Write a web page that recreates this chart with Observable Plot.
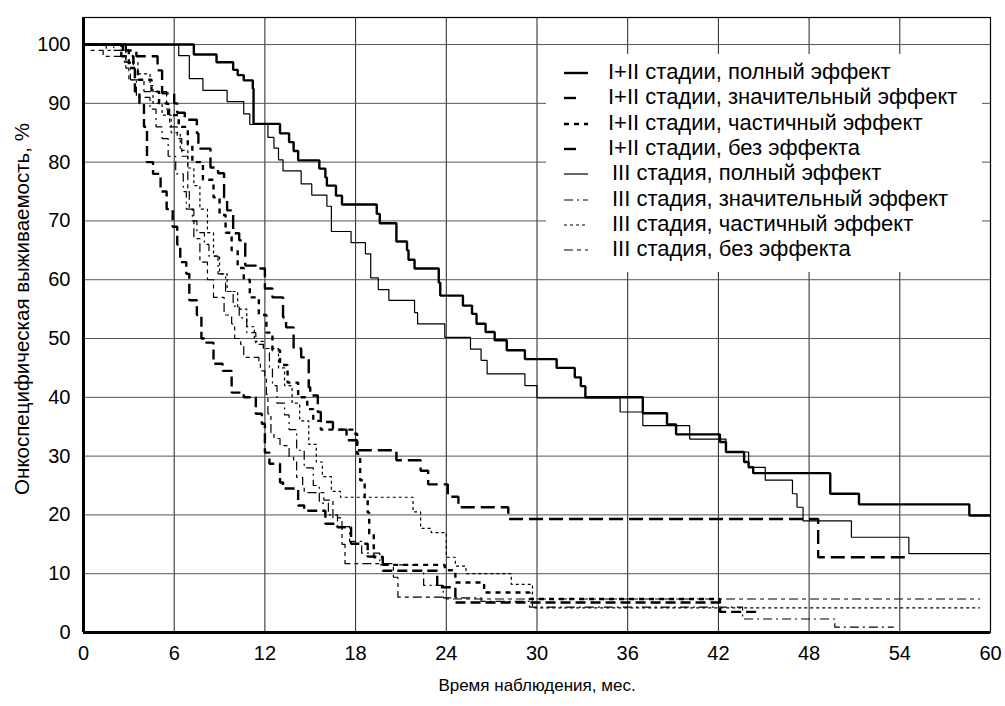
<!DOCTYPE html>
<html><head><meta charset="utf-8">
<script src="https://cdn.jsdelivr.net/npm/d3@7"></script>
<script src="https://cdn.jsdelivr.net/npm/@observablehq/plot@0.6"></script>
<style>
body{margin:0;background:#fff;font-family:"Liberation Sans",Arial,sans-serif;}
#wrap{position:relative;width:1005px;height:706px;}
#legend{position:absolute;left:546px;top:54px;width:436px;height:218px;background:#fff;}
.row{position:absolute;left:0;height:26px;font-size:22px;line-height:26px;color:#000;white-space:nowrap;}
.row svg{position:absolute;left:18px;top:13px;}
.row span{position:absolute;top:0;}
</style></head><body><div id="wrap"></div><script>
// ---- data (months, survival %) ----
const labels = ["I+II стадии, полный эффект","I+II стадии, значительный эффект","I+II стадии, частичный эффект","I+II стадии, без эффекта","III стадия, полный эффект","III стадия, значительный эффект","III стадия, частичный эффект","III стадия, без эффекта"];
const xTicks = [0,6,12,18,24,30,36,42,48,54,60];
const yTicks = [0,10,20,30,40,50,60,70,80,90,100];

const t0 = [0,7.3,8.8,9.9,10.2,10.6,11.2,11.25,13.0,13.6,13.9,14.2,15.6,16.0,16.1,16.7,17.1,19.4,19.6,20.7,21.4,21.5,21.9,23.5,23.6,25.1,25.7,26.0,26.6,27.2,28.0,29.2,31.3,32.5,32.9,33.2,37.0,38.6,39.2,42.1,42.5,43.7,44.0,44.3,49.4,51.3,58.6,60];
const v0 = [100,98.3,97.0,95.7,94.8,93.9,92.5,86.5,84.9,83.4,81.9,80.3,78.9,77.4,76.0,74.3,72.8,71.2,69.6,66.5,65.0,63.4,61.9,59.5,57.3,55.6,54.2,52.5,51.1,49.7,48.0,46.5,45.0,43.4,41.9,40.0,37.3,35.4,33.7,32.4,30.7,29.0,28.1,27.1,23.6,21.8,19.9,19.9];

const t1 = [0,2.8,3.5,4.9,5.2,6.0,6.2,6.7,7.5,7.6,8.4,8.9,9.3,9.5,9.9,10.3,10.7,11.4,12.0,12.5,13.2,13.4,13.9,14.4,14.9,15.0,15.5,15.7,16.5,17.4,18.1,20.7,22.3,22.8,24.1,24.8,28.1,48.6,54.6];
const v1 = [100,99,98,95.6,91.7,90,88.4,87.2,84.9,82.3,79.1,78.1,74,71.8,67.9,66.7,62.4,61.9,58.5,57,53.6,51.9,48.3,46.8,41.7,40.3,37.5,35.8,34.5,32.7,31.0,29.3,27.5,25.2,23.1,21.3,19.3,12.8,12.8];

const t2 = [0,2.6,3.0,3.6,4.5,5.0,5.6,6.3,6.9,7.2,7.9,8.6,9.0,9.4,9.8,10.2,10.6,11.0,11.6,12.1,12.5,13.0,13.5,14.2,14.8,15.2,15.7,17.9,18.1,18.3,18.6,18.8,18.9,19.2,19.8,23.9,24.6,26.5,29.5,42.1,42.5];
const v2 = [100,99,96,94,92,90,88,86,83,80,77,74,71,68,65,62,60,57,54,51,48,45.5,42.5,40,38,36,34.5,33.8,30.4,25.9,23.0,20.4,16.8,12.8,11.5,10.6,8.5,6.8,5.7,3.6,3.6];

const t3 = [0,2.5,3.3,3.4,3.7,4.0,4.2,4.6,5.1,5.5,5.9,6.2,6.4,6.8,7.0,7.5,7.8,8.0,8.6,9.2,9.8,10.6,11.4,11.8,12.0,12.3,13.0,13.2,14.2,14.6,16.0,16.8,17.7,18.8,19.8,23.4,24.6,42.1,44.5];
const v3 = [100,98,96.7,92,90,86,80,78,75,72,69,66,63,61,56.5,54,50,49.3,45.7,44.5,40.8,40,37.2,35.5,30.6,28.7,25.5,24.5,21.6,20.7,18.5,17.9,15.1,12.9,10.5,7.7,5.1,3.5,3.5];

const t4 = [0,6.3,7.0,7.9,9.5,10.6,11.0,12.2,12.6,12.9,13.2,14.4,15.1,16.1,16.4,17.7,18.65,19.0,19.5,20.2,21.9,22.1,23.9,25.6,26.3,26.7,29.2,30.0,35.5,37.0,40.1,42.5,44.0,45.1,46.9,47.2,47.6,50.8,54.6,60];
const v4 = [100,98.1,94.2,92.2,90.3,88.2,86.4,84.2,82.4,80.4,78.5,76.3,74.4,72.5,68.2,66.3,64.4,60.3,58.3,56.5,54.4,52.5,50.2,48.2,46.3,44.0,42.0,39.9,37.5,35.2,32.9,30.7,28.1,25.9,23.6,21.3,19.0,16.2,13.4,13.4];

const t5 = [0,2.0,2.7,3.1,3.5,4.4,4.8,5.2,5.6,6.1,6.6,6.8,7.2,7.5,8.0,8.3,8.9,9.4,9.9,10.3,10.8,11.4,11.9,12.3,12.5,12.8,13.3,13.6,14.1,14.6,15.2,15.6,16.2,16.8,17.6,18.4,19.6,21.8,22.5,23.8,26.3,29.5,43.6,49.7,53.6];
const v5 = [100,99,97,94,91,89,86,84,81,78,75,72,70,68,66,64,61,58,55.5,53.5,51,49,48.3,45,42,39,37,34.5,31,28,25,22,20,18,15.5,13.5,11.5,10.5,8,5.9,5.3,4.3,2.3,0.9,0.9];

const t6 = [0,1.5,2.8,3.6,4.4,4.6,5.2,5.8,6.4,6.9,7.3,7.7,8.2,8.6,9.0,9.5,10.2,10.8,11.3,11.9,12.9,13.3,13.8,14.3,14.9,15.4,15.8,16.4,17.0,21.8,22.3,23.0,24.0,24.6,25.3,28.3,29.7,59.3];
const v6 = [100,99,97,95,93,90,88,85,82,79,76,72,68,64,61,58,55,52,49.5,48.3,45,42,39,36,32,29,26.5,24,23,20.5,17.7,17,12.8,11.3,10.0,8.2,4.2,4.2];

const t7 = [0,0.5,1.3,2.8,3.0,4.0,5.5,5.7,6.2,6.5,6.9,7.0,7.3,7.7,8.2,8.6,9.3,9.8,10.0,10.4,10.6,11.6,11.7,11.8,12.0,12.1,12.2,12.4,12.6,13.0,13.6,13.9,14.1,14.5,14.6,15.9,16.5,17.1,17.3,20.5,20.8,24.0,59.3];
const v7 = [100,99,98,96,94,92,89,86,84,81,75,72,67,63,60,57,54,52.5,50,49,46.8,46,45,44.5,43.4,40.5,37.2,34,33,31.8,29.8,29.2,26.4,24.7,23.8,22.5,19.5,15,11.7,9.4,6.0,5.7,5.7];

const times = [t0,t1,t2,t3,t4,t5,t6,t7];
const vals = [v0,v1,v2,v3,v4,v5,v6,v7];
const widths = [2.4,2.4,2.4,2.4,1.2,1.2,1.2,1.2];
const dashes = [null,"14,6","5,5","10,5",null,"9,4,2,4","3,3","9,4,4,4"];

const rows = [];
times.forEach((ts,i)=>ts.forEach((t,j)=>rows.push({s:i,t,v:vals[i][j]})));

const lineMarks = d3.range(8).reverse().map(i => Plot.line(rows.filter(d=>d.s===i),{x:"t",y:"v",curve:"step-after",stroke:"#000",strokeWidth:widths[i],strokeDasharray:dashes[i],strokeLinejoin:"miter",strokeLinecap:"butt"}));

const chart = Plot.plot({
  width:1005,height:706,
  marginLeft:83,marginRight:15,marginTop:17,marginBottom:74,
  style:{fontFamily:"'Liberation Sans',Arial,sans-serif",background:"#fff"},
  x:{domain:[0,60],ticks:xTicks},
  y:{domain:[0,104.6],ticks:yTicks},
  marks:[
    Plot.gridX(xTicks,{stroke:"#222",strokeOpacity:1,strokeWidth:1}),
    Plot.gridY(yTicks,{stroke:"#555",strokeOpacity:1,strokeWidth:1}),
    ...lineMarks,
    Plot.frame({stroke:"#000",strokeWidth:1.2}),
    Plot.ruleX([0],{stroke:"#000",strokeWidth:3}),
    Plot.ruleY([0],{stroke:"#000",strokeWidth:3}),
    Plot.axisX({ticks:xTicks,tickSize:0,tickPadding:13,fontSize:20,label:"Время наблюдения, мес.",labelAnchor:"center",labelArrow:"none",labelOffset:58}),
    Plot.axisY({ticks:yTicks,tickSize:0,tickPadding:13,fontSize:20,label:"Онкоспецифическая выживаемость, %",labelAnchor:"center",labelArrow:"none",labelOffset:69})
  ]
});
document.getElementById("wrap").appendChild(chart);
const sel = d3.select(chart);
sel.selectAll("g[aria-label='x-axis tick label'] text, g[aria-label='y-axis tick label'] text").style("font-size","20px");
sel.selectAll("g[aria-label='x-axis label'] text").style("font-size","17px");
sel.selectAll("g[aria-label='y-axis label'] text").style("font-size","20.5px");
sel.selectAll("g[aria-label='y-axis label']").each(function(){
  const g = d3.select(this); const old = g.attr("transform") || "";
  g.attr("transform", "translate(0,-16) " + old);
});

// legend (overlay on the plot area, white background)
const leg = document.createElement("div"); leg.id="legend";
labels.forEach((lab,i)=>{
  const r = document.createElement("div"); r.className="row"; r.style.top=(5+i*25.3)+"px";
  const L = (i===1||i===3)?12:24;
  r.innerHTML = `<svg width="30" height="4" style="overflow:visible"><line x1="0" x2="${L}" y1="1" y2="1" stroke="#000" stroke-width="${widths[i]}" ${dashes[i]&&L>12?`stroke-dasharray="${dashes[i]}"`:""}/></svg><span style="left:${i<4?62:66}px">${lab}</span>`;
  leg.appendChild(r);
});
document.getElementById("wrap").appendChild(leg);
</script></body></html>
